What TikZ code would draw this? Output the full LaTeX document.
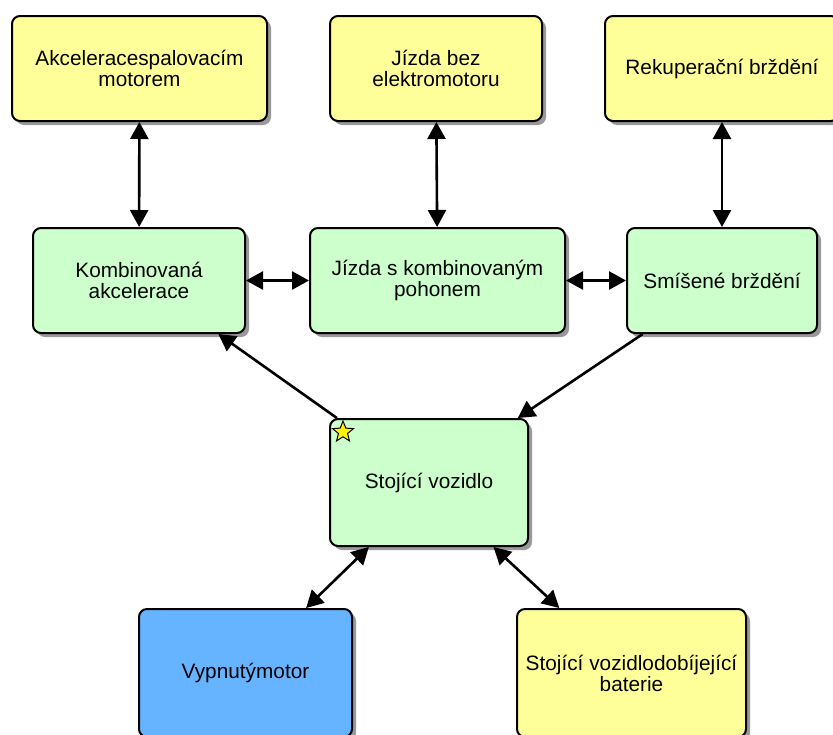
\documentclass[tikz,border=0pt]{standalone}
\usepackage{fontspec}
\setmainfont{Liberation Sans}
\usetikzlibrary{arrows.meta,shadows,shapes.geometric}

\definecolor{modeyellow}{HTML}{FFFF99}
\definecolor{modegreen}{HTML}{CCFFCC}
\definecolor{modeblue}{HTML}{66B3FF}

\tikzset{
	modebox/.style={draw, line width=1pt, rounded corners=4pt, align=center,
		font=\fontsize{10.4}{10.5}\selectfont, inner sep=2pt,
		drop shadow={shadow xshift=2pt, shadow yshift=-2pt, fill=black, opacity=0.4}},
	link/.style={line width=1.3pt, {Triangle[length=8.5pt,width=9pt]}-{Triangle[length=8.5pt,width=9pt]}},
	linkto/.style={line width=1.3pt, -{Triangle[length=8.5pt,width=9pt]}}
}

\begin{document}
\begin{tikzpicture}[x=0.5pt, y=-0.5pt]
	\clip (0, 0) rectangle (833, 734);
	\fill[white] (0, 0) rectangle (833, 734);

	% top row
	\node[modebox, fill=modeyellow, minimum width=127.5pt, minimum height=52.5pt] (akc) at (139.5, 68.5) {Akceleracespalovacím\\motorem};
	\node[modebox, fill=modeyellow, minimum width=106pt, minimum height=52.5pt] (bez) at (436, 68.5) {Jízda bez\\elektromotoru};
	\node[modebox, fill=modeyellow, minimum width=117pt, minimum height=52.5pt] (rek) at (722, 68.5) {Rekuperační brždění};

	% middle row
	\node[modebox, fill=modegreen, minimum width=106pt, minimum height=52.5pt] (komb) at (139, 280.5) {Kombinovaná\\akcelerace};
	\node[modebox, fill=modegreen, minimum width=127.5pt, minimum height=52.5pt] (jizda) at (437.5, 280.5) {Jízda s kombinovaným\\pohonem};
	\node[modebox, fill=modegreen, minimum width=95pt, minimum height=52.5pt] (smis) at (722, 280.5) {Smíšené brždění};

	% standing vehicle
	\node[modebox, fill=modegreen, minimum width=99pt, minimum height=63.5pt] (stoj) at (429, 482.5) {Stojící vozidlo};
	\node[star, star points=5, star point ratio=2.3, draw, fill=yellow, line width=0.5pt, inner sep=0pt, minimum size=11pt] (stojstar) at (343, 432) {};

	% bottom row
	\node[modebox, fill=modeblue, minimum width=106.5pt, minimum height=64pt] (vyp) at (245.5, 673) {Vypnutýmotor};
	\node[modebox, fill=modeyellow, minimum width=114.5pt, minimum height=64pt] (dob) at (631.5, 673) {Stojící vozidlodobíjející\\baterie};

	% arrows
	\draw[link] (akc) -- (komb);
	\draw[link] (bez) -- (jizda);
	\draw[link] (rek) -- (smis);
	\draw[link] (komb) -- (jizda);
	\draw[link] (jizda) -- (smis);
	\draw[linkto] (stoj.145) -- (komb.-34);
	\draw[linkto] (smis.-146) -- (stoj.36);
	\draw[link] (stoj.-133) -- (vyp.47);
	\draw[link] (stoj.-45) -- (dob.138);
\end{tikzpicture}
\end{document}
